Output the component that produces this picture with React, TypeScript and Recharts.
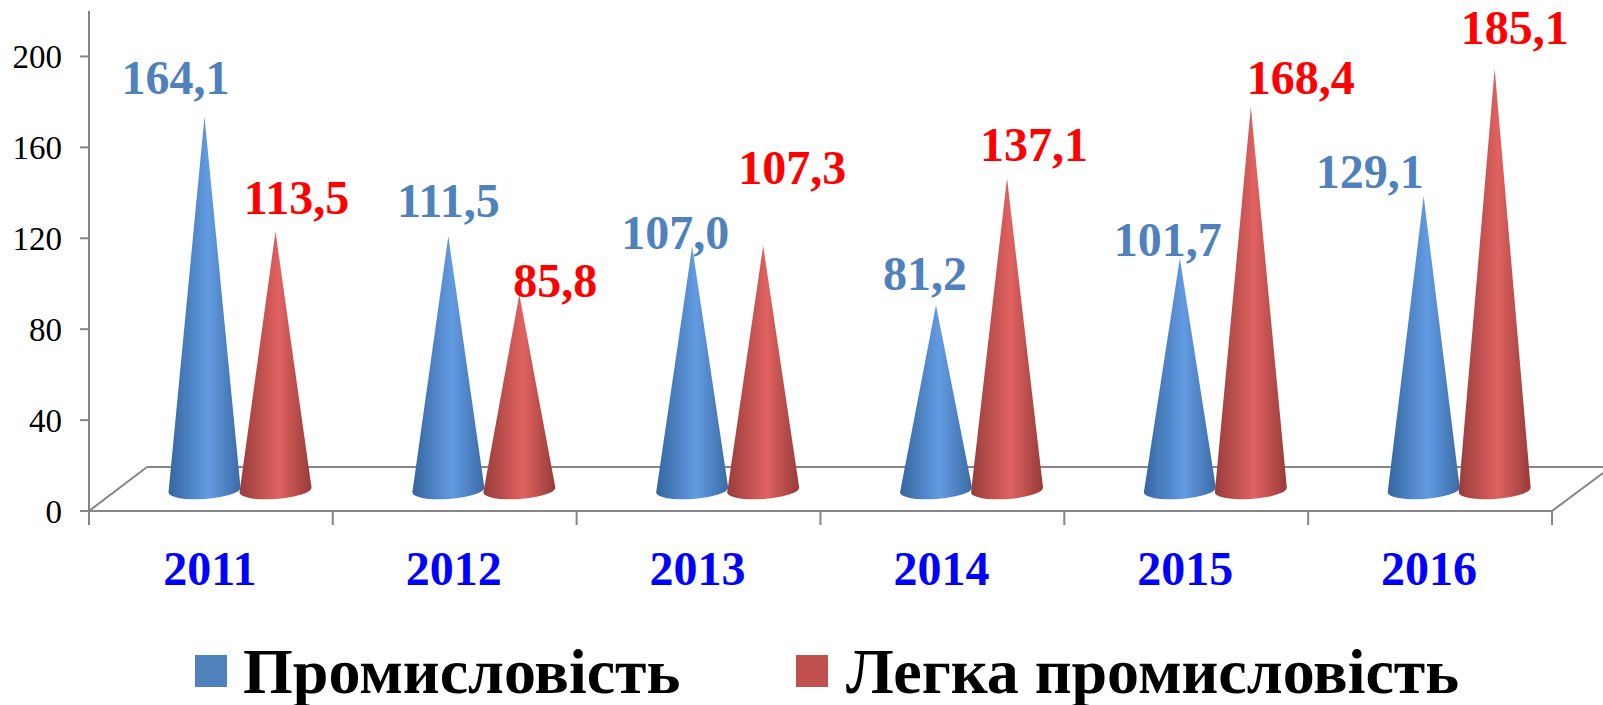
import React from "react";
import { BarChart, Bar, XAxis, YAxis, Legend, LabelList } from "recharts";

const years = ["2011", "2012", "2013", "2014", "2015", "2016"];
const industry = [164.1, 111.5, 107.0, 81.2, 101.7, 129.1];
const lightIndustry = [113.5, 85.8, 107.3, 137.1, 168.4, 185.1];
const yTicks = [0, 40, 80, 120, 160, 200];

const data = years.map((year, i) => ({ year, industry: industry[i], lightIndustry: lightIndustry[i] }));

// hand placed labels in the original, offsets from the cone tip
const industryLabelOffset = [[-29, -20], [0, -17], [-17, 5], [-11, -12], [-12, 0], [-54, -6]];
const lightLabelOffset = [[21, -15], [36, 5], [29, -59], [27, -14], [50, -10], [20, -22]];

const FONT = "'Liberation Serif', 'Times New Roman', serif";
const AXIS = "#868686";
const SHIFT_X = 29; // 3d depth shift of the cones
const TIP_UP = 21.5;
const LABEL_UP = 24;
const BASE_UP = 21;

const Cone = (props: any) => {
  const { x, y, width, height, gradient } = props;
  const cx = x + width / 2 + SHIFT_X;
  const half = width / 2 + 0.5;
  const tipY = y - TIP_UP;
  const baseY = y + height - BASE_UP;
  return (
    <path
      d={`M${cx - half},${baseY + 2.5} L${cx},${tipY} L${cx + half},${baseY - 2.5} A${half},9 -4 0 1 ${cx - half},${baseY + 2.5} Z`}
      fill={`url(#${gradient})`}
    />
  );
};

const makeLabel = (color: string, offsets: number[][]) => (props: any) => {
  const { x, y, width, index, value } = props;
  const [dx, dy] = offsets[index];
  return (
    <text
      x={x + width / 2 + SHIFT_X + dx}
      y={y - LABEL_UP + dy}
      textAnchor="middle"
      fontFamily={FONT}
      fontWeight="bold"
      fontSize={48}
      fill={color}
    >
      {Number(value).toFixed(1).replace(".", ",")}
    </text>
  );
};

const YearTick = (props: any) => {
  const { x, index, payload } = props;
  const band = 243.9;
  return (
    <g>
      <line x1={x - band / 2} x2={x - band / 2} y1={511} y2={525} stroke={AXIS} strokeWidth={2} />
      {index === years.length - 1 && (
        <line x1={x + band / 2} x2={x + band / 2} y1={511} y2={525} stroke={AXIS} strokeWidth={2} />
      )}
      <text x={x - 1} y={585} textAnchor="middle" fontFamily={FONT} fontWeight="bold" fontSize={48} fill="#0000FF">
        {payload.value}
      </text>
    </g>
  );
};

const legendItems = [
  { label: "Промисловість", color: "#4F81BD", boxX: 195, textX: 243 },
  { label: "Легка промисловість", color: "#C0504D", boxX: 796, textX: 846 },
];

const ChartLegend = () => (
  <div style={{ position: "relative", width: 0, height: 0 }}>
    {legendItems.map((item) => (
      <React.Fragment key={item.label}>
        <div style={{ position: "absolute", left: item.boxX, top: 655, width: 32, height: 32, background: item.color }} />
        <div
          style={{
            position: "absolute",
            left: item.textX,
            top: 638,
            fontFamily: FONT,
            fontWeight: "bold",
            fontSize: 64,
            lineHeight: "68px",
            whiteSpace: "nowrap",
            color: "#000",
          }}
        >
          {item.label}
        </div>
      </React.Fragment>
    ))}
  </div>
);

const App = () => {
  return (
    <div style={{ position: "absolute", left: 0, top: 0 }}>
      <BarChart
        width={1603}
        height={705}
        data={data}
        margin={{ top: 11, right: 51, left: 0, bottom: 134 }}
        barSize={71}
        barGap={0}
      >
        <defs>
          <linearGradient id="coneBlue" x1="0" y1="0" x2="1" y2="0">
            <stop offset="0" stopColor="#34669F" />
            <stop offset="0.55" stopColor="#639BE2" />
            <stop offset="1" stopColor="#3A6BA5" />
          </linearGradient>
          <linearGradient id="coneRed" x1="0" y1="0" x2="1" y2="0">
            <stop offset="0" stopColor="#983D3B" />
            <stop offset="0.55" stopColor="#E06260" />
            <stop offset="1" stopColor="#963B39" />
          </linearGradient>
        </defs>

        {/* floor of the 3d box */}
        <line x1={89} y1={511} x2={147} y2={467} stroke={AXIS} strokeWidth={2} />
        <line x1={147} y1={467} x2={1603} y2={467} stroke={AXIS} strokeWidth={2} />
        <line x1={1552} y1={511} x2={1603} y2={473} stroke={AXIS} strokeWidth={2} />

        <XAxis
          dataKey="year"
          height={60}
          axisLine={{ stroke: AXIS, strokeWidth: 2 }}
          tickLine={false}
          tick={<YearTick />}
          interval={0}
        />
        <YAxis
          width={89}
          domain={[0, 220]}
          ticks={yTicks}
          axisLine={{ stroke: AXIS, strokeWidth: 2 }}
          tickLine={{ stroke: AXIS, strokeWidth: 2 }}
          tickSize={9}
          tickMargin={18}
          tick={{ fontFamily: FONT, fontSize: 33, fill: "#000" }}
        />
        <Legend content={<ChartLegend />} wrapperStyle={{ left: 0, top: 0, width: 0, height: 0 }} />

        <Bar dataKey="industry" name="Промисловість" shape={<Cone gradient="coneBlue" />} isAnimationActive={false}>
          <LabelList dataKey="industry" content={makeLabel("#4F81BD", industryLabelOffset)} />
        </Bar>
        <Bar dataKey="lightIndustry" name="Легка промисловість" shape={<Cone gradient="coneRed" />} isAnimationActive={false}>
          <LabelList dataKey="lightIndustry" content={makeLabel("#FF0000", lightLabelOffset)} />
        </Bar>
      </BarChart>
    </div>
  );
};

export default App;
